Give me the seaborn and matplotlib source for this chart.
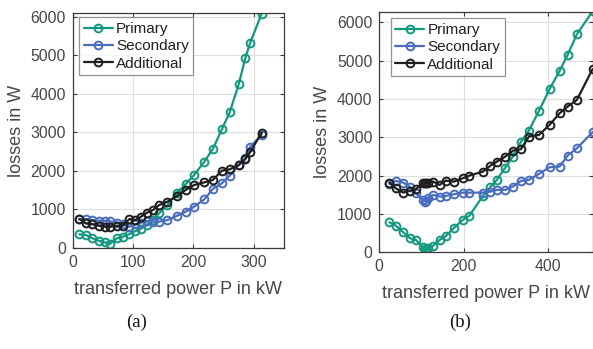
import numpy as np
import pandas as pd
import seaborn as sns
import matplotlib
matplotlib.use("Agg")
import matplotlib.pyplot as plt

# ---------------- data ----------------
series_names = ["Primary", "Secondary", "Additional"]

# panel (a)
power_a = [11, 22, 32, 43, 53, 62, 73, 83, 94, 104, 113, 123, 133, 143, 157,
           173, 187, 201, 218, 232, 247, 260, 275, 286, 294, 313]
primary_a = [346, 329, 251, 182, 139, 104, 242, 286, 355, 433, 494, 589, 719, 892, 1108,
             1429, 1654, 1888, 2234, 2563, 3074, 3516, 4243, 4936, 5326, 6080]
secondary_a = [736, 745, 719, 701, 701, 684, 650, 615, 545, 606, 650, 693, 676, 676, 719,
               831, 935, 1065, 1256, 1524, 1671, 1870, 2148, 2330, 2624, 2927]
additional_a = [745, 632, 615, 571, 546, 546, 571, 571, 745, 719, 805, 909, 979, 1108, 1195,
                1342, 1498, 1628, 1697, 1758, 2000, 2035, 2148, 2304, 2485, 2988]

# panel (b)
power_b = [24, 39, 57, 73, 87, 103, 109, 112, 116, 128, 143, 158, 177, 198, 214,
           246, 263, 279, 299, 317, 336, 355, 379, 404, 428, 447, 469, 506]
primary_b = [783, 696, 522, 365, 322, 130, 78, 61, 104, 174, 322, 426, 635, 844, 957,
             1470, 1697, 1888, 2210, 2497, 2880, 3176, 3689, 4254, 4733, 5150, 5690, 6281]
secondary_b = [1784, 1862, 1818, 1697, 1540, 1366, 1322, 1340, 1427, 1496, 1453, 1470, 1514, 1557, 1557,
               1557, 1583, 1627, 1627, 1714, 1862, 1888, 2045, 2218, 2236, 2523, 2714, 3132]
additional_b = [1818, 1670, 1557, 1610, 1644, 1818, 1818, 1801, 1818, 1844, 1757, 1870, 1844, 1931, 2001,
                2105, 2253, 2366, 2497, 2653, 2688, 3019, 3062, 3323, 3628, 3802, 3976, 4776]

xticks_a = [0, 100, 200, 300]
xticks_b = [0, 200, 400]
yticks = [0, 1000, 2000, 3000, 4000, 5000, 6000]
panel_labels = ["(a)", "(b)"]
xlabel_text = "transferred power P in kW"
ylabel_text = "losses in W"

colors = {"Primary": "#12987f", "Secondary": "#4a6cbe", "Additional": "#1e1e1e"}


def long_df(power, prim, sec, add):
    frames = []
    for name, vals in zip(series_names, [prim, sec, add]):
        frames.append(pd.DataFrame({"power": power, "loss": vals, "series": name}))
    return pd.concat(frames, ignore_index=True)


df_a = long_df(power_a, primary_a, secondary_a, additional_a)
df_b = long_df(power_b, primary_b, secondary_b, additional_b)

# ---------------- style ----------------
sns.set_theme(style="white")
plt.rcParams["font.family"] = ["Liberation Sans", "DejaVu Sans"]

W, H = 593, 349
fig = plt.figure(figsize=(W / 100, H / 100), dpi=100)

ax_a = fig.add_axes([72.7 / W, 1 - 247.7 / H, (284 - 72.7) / W, (247.7 - 13.3) / H])
ax_b = fig.add_axes([379.3 / W, 1 - 252.3 / H, (592.5 - 379.3) / W, (252.3 - 12.3) / H])

tick_col = "#474747"
spine_col = "#3a3a3a"


def draw(ax, df, xlim, ylim, xticks, legend_bbox):
    for name in series_names:
        sub = df[df["series"] == name]
        sns.lineplot(data=sub, x="power", y="loss", ax=ax, color=colors[name],
                     marker="o", markersize=5.6, markerfacecolor="none",
                     markeredgecolor=colors[name], markeredgewidth=1.4,
                     linewidth=1.6, estimator=None, sort=False, label=name)
    ax.set_xlim(*xlim)
    ax.set_ylim(*ylim)
    ax.set_xticks(xticks)
    ax.set_yticks(yticks)
    ax.grid(True, color="#dedede", linewidth=0.8)
    ax.set_axisbelow(True)
    for s in ax.spines.values():
        s.set_color(spine_col)
        s.set_linewidth(0.9)
    ax.tick_params(direction="in", length=3, width=0.8, colors=spine_col,
                   labelcolor=tick_col, labelsize=11.3, top=True, right=True,
                   left=True, bottom=True, pad=5)
    ax.set_xlabel(xlabel_text, fontsize=13, color=tick_col, labelpad=8)
    ax.set_ylabel(ylabel_text, fontsize=13, color=tick_col, labelpad=4)
    leg = ax.legend(loc="upper left", bbox_to_anchor=legend_bbox, fontsize=11,
                    frameon=True, fancybox=False, handlelength=1.9,
                    handletextpad=0.2, labelspacing=0.22, borderpad=0.3,
                    borderaxespad=0.0)
    leg.get_frame().set_edgecolor("#7a7a7a")
    leg.get_frame().set_linewidth(0.9)
    for t in leg.get_texts():
        t.set_color("#202020")


draw(ax_a, df_a, (0, 350), (0, 6090), xticks_a,
     ((79.3 - 72.7) / (284 - 72.7), 1 - (17.3 - 13.3) / (247.7 - 13.3)))
draw(ax_b, df_b, (0, 506), (0, 6260), xticks_b,
     ((390.7 - 379.3) / (592.5 - 379.3), 1 - (18.3 - 12.3) / (252.3 - 12.3)))

fig.text(137 / W, 1 - 322 / H, panel_labels[0], ha="center", va="center",
         fontsize=13.5, family=["Liberation Serif", "DejaVu Serif"], color="#111111")
fig.text(460 / W, 1 - 322 / H, panel_labels[1], ha="center", va="center",
         fontsize=13.5, family=["Liberation Serif", "DejaVu Serif"], color="#111111")

fig.savefig("out.png", dpi=100)
